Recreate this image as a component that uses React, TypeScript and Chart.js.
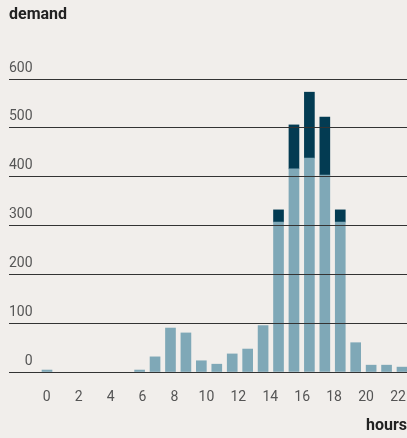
import React, { useEffect, useRef } from "react";
import { Chart, registerables } from "chart.js";

Chart.register(...registerables);

const hours = [0, 1, 2, 3, 4, 5, 6, 7, 8, 9, 10, 11, 12, 13, 14, 15, 16, 17, 18, 19, 20, 21, 22, 23];
const baseDemand = [4, 0, 0, 0, 0, 0, 4, 31, 90, 80, 23, 16, 37, 47, 95, 307, 416, 438, 403, 307, 60, 14, 14, 10];
const peakDemand = [0, 0, 0, 0, 0, 0, 0, 0, 0, 0, 0, 0, 0, 0, 0, 25, 90, 135, 119, 25, 0, 0, 0, 0];
const hourTicks = [0, 2, 4, 6, 8, 10, 12, 14, 16, 18, 20, 22];
const demandTicks = [0, 100, 200, 300, 400, 500, 600];

const BG = "#f1eeeb";
const LIGHT = "#7fa8b7";
const DARK = "#033b52";
const FONT = "Roboto, 'Liberation Sans', sans-serif";

const toPoints = (values: number[]) =>
  hours.map((h, i) => ({ x: h, y: values[i] === 0 ? null : values[i] }));

export default function App() {
  const ref = useRef<HTMLCanvasElement | null>(null);

  useEffect(() => {
    if (!ref.current) return;
    const chart = new Chart(ref.current, {
      type: "bar",
      data: {
        datasets: [
          {
            label: "base",
            data: toPoints(baseDemand),
            backgroundColor: LIGHT,
            borderWidth: 0,
            barThickness: 10,
            xAxisID: "x",
            yAxisID: "y",
          },
          {
            label: "peak",
            data: toPoints(peakDemand),
            backgroundColor: DARK,
            borderWidth: 0,
            barThickness: 10,
            xAxisID: "x",
            yAxisID: "y",
          },
        ],
      },
      options: {
        animation: false,
        responsive: true,
        maintainAspectRatio: false,
        layout: { padding: { left: 9, right: 0, top: 0, bottom: 0 } },
        plugins: {
          legend: { display: false },
          tooltip: { enabled: false },
          title: {
            display: true,
            text: "demand",
            align: "start",
            color: "#222",
            font: { family: FONT, size: 16, weight: "bold", lineHeight: 1.2 },
            padding: { top: 5, bottom: 54.8 },
          },
        },
        scales: {
          x: {
            type: "linear",
            display: false,
            stacked: true,
            offset: false,
            grid: { offset: false },
            min: -2.462,
            max: 23.324,
          },
          x2: {
            type: "linear",
            position: "bottom",
            offset: false,
            min: -2.361,
            max: 22.564,
            grid: { display: false, drawTicks: false, offset: false },
            border: { display: false },
            afterBuildTicks: (scale: any) => {
              scale.ticks = hourTicks.map((v) => ({ value: v }));
            },
            afterFit: (scale: any) => {
              scale.height = 66;
              scale.paddingLeft = 0;
              scale.paddingRight = 0;
            },
            ticks: {
              color: "#555",
              padding: 17,
              maxRotation: 0,
              autoSkip: false,
              font: { family: FONT, size: 14 },
            },
            title: {
              display: true,
              text: "hours",
              align: "end",
              color: "#222",
              font: { family: FONT, size: 16, weight: "bold", lineHeight: 1.2 },
              padding: { top: 0, bottom: 2 },
            },
          },
          y: {
            type: "linear",
            stacked: true,
            min: 0,
            max: 600,
            afterBuildTicks: (scale: any) => {
              scale.ticks = demandTicks.map((v) => ({ value: v }));
            },
            afterFit: (scale: any) => {
              scale.paddingTop = 0;
              scale.paddingBottom = 0;
            },
            grid: { color: "#333", lineWidth: 1, drawTicks: false, z: 1 },
            border: { display: false },
            ticks: {
              mirror: true,
              crossAlign: "far",
              padding: 0,
              labelOffset: -11,
              color: "#555",
              font: { family: FONT, size: 14 },
            },
          },
        },
      },
    });
    return () => chart.destroy();
  }, []);

  return (
    <div style={{ position: "fixed", left: 0, top: 0, width: 407, height: 438, background: BG }}>
      <canvas ref={ref} />
    </div>
  );
}
